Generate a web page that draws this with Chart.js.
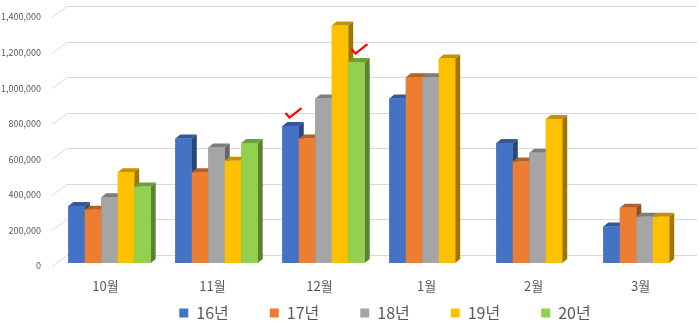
<!DOCTYPE html>
<html>
<head>
<meta charset="utf-8">
<script src="https://cdn.jsdelivr.net/npm/chart.js@4"></script>
<style>
  html, body { margin: 0; padding: 0; background: #fff; }
  #wrap { width: 700px; height: 326px; position: relative; }
</style>
</head>
<body>
<div id="wrap"><canvas id="salesChart"></canvas></div>
<script>
// categories / series
const categories = ['10월', '11월', '12월', '1월', '2월', '3월'];
const seriesNames = ['16년', '17년', '18년', '19년', '20년'];
const s16 = [320000, 700000, 770000, 925000, 675000, 205000];
const s17 = [300000, 510000, 700000, 1045000, 570000, 310000];
const s18 = [370000, 650000, 925000, 1045000, 620000, 260000];
const s19 = [510000, 575000, 1335000, 1150000, 810000, 260000];
const s20 = [430000, 675000, 1130000, null, null, null];
const series = [s16, s17, s18, s19, s20];
const colors = ['#4472C4', '#ED7D31', '#A5A5A5', '#FFC000', '#92D050'];
const yMax = 1400000;
const yStep = 200000;
// red check marks: [category index, series index]
const checkMarks = [[2, 0], [2, 4]];

Chart.defaults.font.family = '"Noto Sans CJK KR", "Noto Sans", sans-serif';
Chart.defaults.color = '#595959';

function shade(hex, f) {
  const n = parseInt(hex.slice(1), 16);
  const r = Math.round(((n >> 16) & 255) * f);
  const g = Math.round(((n >> 8) & 255) * f);
  const b = Math.round((n & 255) * f);
  return `rgb(${r},${g},${b})`;
}

// 3d-ish back wall grid + bar sides/tops
const DX = 5, DY = 4;        // bar depth
const GX = 15;               // wall depth (x)
const FRONT_DROP = 3;        // front edge of the floor/wall sits a bit below the bar plane
const BACK_RISE = 8;         // back wall sits above the bar plane
const WALL_SHIFT = 4;        // wall starts a bit left of the first bar slot
const fake3d = {
  id: 'fake3d',
  beforeDatasetsDraw(chart) {
    const { ctx, chartArea } = chart;
    const ys = chart.scales.y;
    const x0 = chartArea.left - WALL_SHIFT;
    ctx.save();
    ctx.strokeStyle = '#d9d9d9';
    ctx.lineWidth = 1;
    ys.ticks.forEach(t => {
      const py = Math.round(ys.getPixelForValue(t.value)) + 0.5;
      ctx.beginPath();
      ctx.moveTo(x0, py + FRONT_DROP);
      ctx.lineTo(x0 + GX, py - BACK_RISE);
      ctx.lineTo(chart.width - 3, py - BACK_RISE);
      ctx.stroke();
    });
    ctx.restore();
  },
  afterDatasetsDraw(chart) {
    const ctx = chart.ctx;
    ctx.save();
    categories.forEach((c, j) => {
      series.forEach((s, i) => {
        if (s[j] == null) return;
        const bar = chart.getDatasetMeta(i).data[j];
        const { x, y, base, width } = bar.getProps(['x', 'y', 'base', 'width'], true);
        const l = x - width / 2, r = x + width / 2;
        // side
        ctx.fillStyle = shade(colors[i], 0.62);
        ctx.beginPath();
        ctx.moveTo(r, y); ctx.lineTo(r + DX, y - DY);
        ctx.lineTo(r + DX, base - DY); ctx.lineTo(r, base);
        ctx.closePath(); ctx.fill();
        // top
        ctx.fillStyle = shade(colors[i], 0.76);
        ctx.beginPath();
        ctx.moveTo(l, y); ctx.lineTo(l + DX, y - DY);
        ctx.lineTo(r + DX, y - DY); ctx.lineTo(r, y);
        ctx.closePath(); ctx.fill();
        // front
        ctx.fillStyle = colors[i];
        ctx.fillRect(l, y, width, base - y);
      });
    });
    // check marks
    ctx.strokeStyle = '#ff0000';
    ctx.lineWidth = 2.2;
    checkMarks.forEach(([j, i]) => {
      const bar = chart.getDatasetMeta(i).data[j];
      const { x, y } = bar.getProps(['x', 'y'], true);
      ctx.beginPath();
      ctx.moveTo(x - 5, y - 13);
      ctx.lineTo(x - 1, y - 8.5);
      ctx.lineTo(x + 11, y - 18);
      ctx.stroke();
    });
    ctx.restore();
  }
};

// legend sits tight under the month labels, like the excel original
const legendNudge = {
  id: 'legendNudge',
  afterLayout(chart) {
    const lg = chart.legend;
    const dx = 8;
    lg.top = chart.chartArea.bottom + 1;
    lg.bottom = lg.top + lg.height;
    lg.left += dx; lg.right += dx;
  }
};

new Chart(document.getElementById('salesChart'), {
  type: 'bar',
  data: {
    labels: categories,
    datasets: series.map((s, i) => ({
      label: seriesNames[i],
      data: s,
      backgroundColor: colors[i],
      borderWidth: 0,
      barPercentage: 1,
      categoryPercentage: 0.77
    }))
  },
  options: {
    responsive: true,
    maintainAspectRatio: false,
    animation: false,
    layout: { padding: { top: 14, left: 2, right: 2, bottom: -38 } },
    scales: {
      x: {
        grid: { display: false, drawTicks: false },
        border: { display: false },
        ticks: { padding: 15, labelOffset: -4, font: { size: 13 }, color: '#595959' },
        afterFit(scale) { scale.height = 34; }
      },
      y: {
        min: 0,
        max: yMax,
        grid: { display: false, drawTicks: false },
        border: { display: false },
        ticks: {
          stepSize: yStep,
          padding: 15,
          labelOffset: 3,
          font: { size: 9 },
          color: '#595959',
          callback: v => v.toLocaleString('en-US')
        },
        afterFit(scale) {
          scale.width = 54;
          scale.paddingTop = 0;
          scale.paddingBottom = 0;
        }
      }
    },
    plugins: {
      legend: {
        position: 'bottom',
        fullSize: false,
        labels: {
          boxWidth: 9,
          boxHeight: 9,
          padding: 41,
          font: { size: 16 },
          color: '#595959'
        }
      },
      tooltip: { enabled: false }
    }
  },
  plugins: [fake3d, legendNudge]
});
</script>
</body>
</html>
